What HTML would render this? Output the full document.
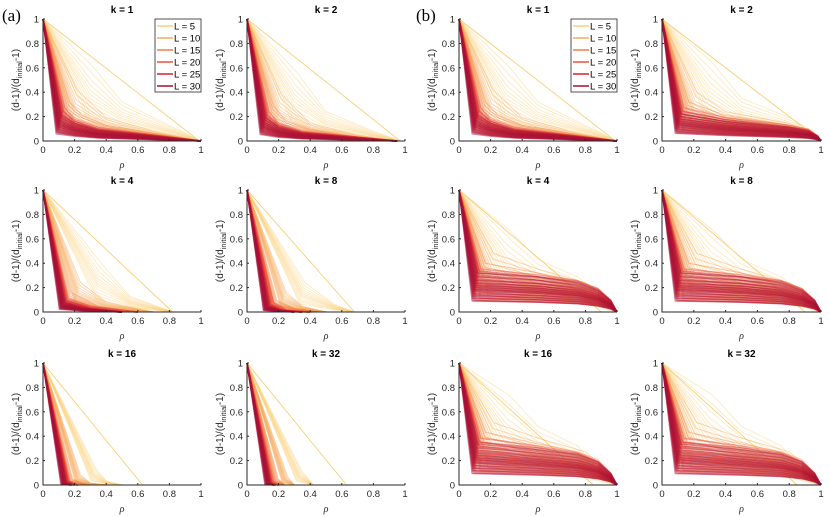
<!DOCTYPE html>
<html><head><meta charset="utf-8"><style>
body{margin:0;background:#fff;}
svg{display:block;font-family:"Liberation Sans",Arial,sans-serif;}
</style></head><body>
<svg id="fig" width="830" height="517" viewBox="0 0 830 517">
<text x="2" y="21" font-family="Liberation Serif,serif" font-size="17" fill="#000">(a)</text>
<text x="416" y="21" font-family="Liberation Serif,serif" font-size="17" fill="#000">(b)</text>
</svg>
<script>
const legendLabels = ["L = 5","L = 10","L = 15","L = 20","L = 25","L = 30"];
const colors = ["#f9cf78","#f6a858","#f0803e","#e8503f","#d6202c","#a50f38"];
const xTicks = [0,0.2,0.4,0.6,0.8,1];
const yTicks = [0,0.2,0.4,0.6,0.8,1];
const xTickLabels = ["0","0.2","0.4","0.6","0.8","1"];
const yTickLabels = ["0","0.2","0.4","0.6","0.8","1"];
const spreadFactors = [0.45,0.55,0.65,0.75,0.85,0.92,1,1.08,1.18,1.3,1.45,1.6];
const panelTitles = ["k = 1","k = 2","k = 4","k = 8","k = 16","k = 32","k = 1","k = 2","k = 4","k = 8","k = 16","k = 32"];
const tailA1 = [
 [[0,1],[0.3,0.38],[0.5,0.2],[0.8,0.08],[1,0]],
 [[0,1],[0.2,0.26],[0.4,0.12],[0.7,0.05],[1,0]],
 [[0,1],[0.15,0.2],[0.25,0.13],[0.4,0.08],[0.7,0.04],[1,0]],
 [[0,1],[0.12,0.17],[0.2,0.11],[0.35,0.07],[0.7,0.03],[1,0]],
 [[0,1],[0.11,0.15],[0.2,0.1],[0.35,0.06],[0.7,0.03],[1,0]],
 [[0,1],[0.1,0.13],[0.2,0.09],[0.35,0.055],[0.7,0.025],[1,0]]];
const tailA2 = [
 [[0,1],[0.3,0.35],[0.5,0.15],[0.8,0.05],[0.97,0]],
 [[0,1],[0.2,0.24],[0.4,0.09],[0.7,0.03],[0.95,0]],
 [[0,1],[0.15,0.18],[0.25,0.1],[0.4,0.06],[0.7,0.02],[0.95,0]],
 [[0,1],[0.12,0.15],[0.2,0.09],[0.35,0.05],[0.7,0.02],[0.95,0]],
 [[0,1],[0.11,0.13],[0.2,0.08],[0.35,0.045],[0.7,0.02],[0.95,0]],
 [[0,1],[0.1,0.12],[0.2,0.07],[0.35,0.04],[0.7,0.015],[0.95,0]]];
const tailA3 = [
 [[0,1],[0.35,0.25],[0.55,0.08],[0.82,0]],
 [[0,1],[0.22,0.15],[0.4,0.05],[0.7,0]],
 [[0,1],[0.16,0.1],[0.35,0.03],[0.6,0]],
 [[0,1],[0.14,0.07],[0.3,0.03],[0.6,0]],
 [[0,1],[0.13,0.06],[0.3,0.02],[0.5,0]],
 [[0,1],[0.12,0.05],[0.25,0.02],[0.5,0]]];
const tailA4 = [
 [[0,1],[0.35,0.15],[0.55,0.04],[0.68,0]],
 [[0,1],[0.23,0.1],[0.35,0.03],[0.5,0]],
 [[0,1],[0.17,0.06],[0.3,0.02],[0.45,0]],
 [[0,1],[0.15,0.05],[0.25,0.01],[0.4,0]],
 [[0,1],[0.13,0.04],[0.22,0.01],[0.35,0]],
 [[0,1],[0.12,0.03],[0.2,0.01],[0.3,0]]];
const tailA5 = [
 [[0,1],[0.32,0.08],[0.4,0.02],[0.5,0]],
 [[0,1],[0.22,0.05],[0.3,0.01],[0.4,0]],
 [[0,1],[0.17,0.03],[0.25,0.01],[0.3,0]],
 [[0,1],[0.15,0.02],[0.22,0]],
 [[0,1],[0.14,0.02],[0.2,0]],
 [[0,1],[0.13,0.01],[0.18,0]]];
const tailA6 = [
 [[0,1],[0.33,0.07],[0.42,0]],
 [[0,1],[0.24,0.04],[0.3,0]],
 [[0,1],[0.18,0.03],[0.24,0]],
 [[0,1],[0.15,0.02],[0.2,0]],
 [[0,1],[0.14,0.01],[0.18,0]],
 [[0,1],[0.13,0.01],[0.17,0]]];
const tailB2 = [
 [[0,1],[0.3,0.4],[0.5,0.22],[0.8,0.12],[0.95,0.05],[1,0]],
 [[0,1],[0.2,0.25],[0.4,0.15],[0.8,0.09],[0.95,0.04],[1,0]],
 [[0,1],[0.15,0.2],[0.4,0.13],[0.8,0.08],[0.92,0.06],[0.98,0.025],[1,0]],
 [[0,1],[0.12,0.17],[0.4,0.12],[0.8,0.08],[0.92,0.06],[0.98,0.025],[1,0]],
 [[0,1],[0.11,0.15],[0.4,0.11],[0.8,0.07],[0.92,0.055],[0.98,0.025],[1,0]],
 [[0,1],[0.1,0.14],[0.4,0.1],[0.8,0.07],[0.92,0.05],[0.98,0.025],[1,0]]];
const tailB3 = [
 [[0,1],[0.3,0.42],[0.5,0.27],[0.75,0.18],[0.9,0.08],[1,0]],
 [[0,1],[0.2,0.3],[0.5,0.22],[0.8,0.15],[0.93,0.08],[1,0]],
 [[0,1],[0.15,0.25],[0.5,0.2],[0.75,0.16],[0.88,0.12],[0.96,0.06],[1,0]],
 [[0,1],[0.12,0.22],[0.5,0.19],[0.75,0.16],[0.88,0.12],[0.96,0.06],[1,0]],
 [[0,1],[0.11,0.21],[0.5,0.18],[0.75,0.155],[0.88,0.115],[0.96,0.06],[1,0]],
 [[0,1],[0.1,0.2],[0.5,0.18],[0.75,0.15],[0.88,0.11],[0.96,0.06],[1,0]]];
const tailB5 = [
 [[0,1],[0.3,0.46],[0.5,0.3],[0.75,0.2],[0.88,0.08],[1,0]],
 [[0,1],[0.2,0.32],[0.5,0.24],[0.8,0.17],[0.93,0.08],[1,0]],
 [[0,1],[0.15,0.27],[0.5,0.21],[0.75,0.17],[0.88,0.13],[0.96,0.06],[1,0]],
 [[0,1],[0.12,0.24],[0.5,0.2],[0.75,0.165],[0.88,0.12],[0.96,0.06],[1,0]],
 [[0,1],[0.11,0.22],[0.5,0.19],[0.75,0.16],[0.88,0.12],[0.96,0.06],[1,0]],
 [[0,1],[0.1,0.21],[0.5,0.18],[0.75,0.155],[0.88,0.115],[0.96,0.06],[1,0]]];
const panelCurves = [tailA1,tailA2,tailA3,tailA4,tailA5,tailA6,tailA1,tailB2,tailB3,tailB3,tailB5,tailB5];
const l5LineEnd = [[0.97,0.02],[0.97,0],[0.82,0],[0.68,0],[0.63,0],[0.63,0],[0.97,0.02],[1,0],[0.9,0],[0.9,0],[0.85,0],[0.85,0]];

const NS = "http://www.w3.org/2000/svg";
const svg = document.getElementById("fig");
const colX = [[43,201],[247,405],[459,617],[662,821]];
const rowY = [[19,141],[190,312],[363,485]];
function mk(tag, attrs, parent){const e=document.createElementNS(NS,tag);for(const k in attrs)e.setAttribute(k,attrs[k]);(parent||svg).appendChild(e);return e;}

for(let p=0;p<12;p++){
  const side = p<6?0:1, idx=p%6;
  const cx = colX[side*2 + (idx%2)], ry = rowY[Math.floor(idx/2)];
  const sx = v => cx[0] + v*(cx[1]-cx[0]);
  const sy = v => ry[1] - v*(ry[1]-ry[0]);
  const g = mk("g",{});
  
  
  const curves = panelCurves[p];
  for(let L=0;L<6;L++){
    const sg = mk("g",{},g);
    
    
    if(L===0){
      const ln = mk("line",{x1:sx(0),y1:sy(1),x2:sx(l5LineEnd[p][0]),y2:sy(l5LineEnd[p][1]),stroke:colors[0],"stroke-width":0.9},sg);
      
      
    }
    const med = curves[L];
    spreadFactors.forEach(f=>{
      const pts = med.map((pt,i)=>{
        if(i===0 || i===med.length-1) return [pt[0],pt[1]];
        let x = i===1 ? pt[0] + (f-1)*0.03 : pt[0];
        let y = Math.min(1,pt[1]*f);
        return [x,y];
      });
      const pl = mk("polyline",{points:pts.map(q=>sx(q[0]).toFixed(1)+","+sy(q[1]).toFixed(1)).join(" "),fill:"none",stroke:colors[L],"stroke-width":L>=3?1.5:1,"stroke-opacity":L===0?0.4:(L>=3?0.5:0.45),"stroke-linejoin":"round"},sg);
      
      
    });
  }
  const ax = mk("path",{d:`M${cx[0]},${ry[0]}V${ry[1]}H${cx[1]}`,fill:"none",stroke:"#262626","stroke-width":1},g);
  
  
  xTicks.forEach((t,i)=>{
    mk("line",{x1:sx(t),x2:sx(t),y1:ry[1],y2:ry[1]-2,stroke:"#262626"},g);
    const tx=mk("text",{x:sx(t),y:ry[1]+12,"font-size":9.5,"text-anchor":"middle",fill:"#262626"},g);
    tx.textContent=xTickLabels[i];
    
    
  });
  yTicks.forEach((t,i)=>{
    mk("line",{x1:cx[0],x2:cx[0]+2,y1:sy(t),y2:sy(t),stroke:"#262626"},g);
    const tx=mk("text",{x:cx[0]-4,y:sy(t)+3.5,"font-size":9.5,"text-anchor":"end",fill:"#262626"},g);
    tx.textContent=yTickLabels[i];
    
    
  });
  const tt=mk("text",{x:(cx[0]+cx[1])/2,y:ry[0]-6,"font-size":10,"font-weight":"bold","text-anchor":"middle",fill:"#000"},g);
  tt.textContent=panelTitles[p];
  
  
  const xl=mk("text",{x:(cx[0]+cx[1])/2,y:ry[1]+27,"font-size":10,"font-style":"italic","text-anchor":"middle",fill:"#262626","font-family":"Liberation Serif,serif"},g);
  xl.textContent="ρ";
  
  
  const yc=(ry[0]+ry[1])/2, xx=cx[0]-24;
  const yl=mk("text",{x:xx,y:yc,"font-size":10,"text-anchor":"middle",fill:"#262626",transform:`rotate(-90 ${xx} ${yc})`},g);
  yl.innerHTML='(d-1)/(d<tspan font-size="7.5" dy="3">initial</tspan><tspan dy="-3">-1)</tspan>';
  
  
  if(idx===0){
    const lg=mk("g",{},g);
    
    
    const lx = cx[1]-46, ly=ry[0];
    mk("rect",{x:lx,y:ly,width:46,height:73,fill:"#fff",stroke:"#262626","stroke-width":0.8},lg);
    legendLabels.forEach((lab,i)=>{
      const en=mk("g",{},lg);
      
      
      const yy=ly+7+i*12;
      mk("line",{x1:lx+2,x2:lx+18,y1:yy,y2:yy,stroke:colors[i],"stroke-width":1.5},en);
      const t=mk("text",{x:lx+19,y:yy+3.5,"font-size":9.5,fill:"#000"},en);
      t.textContent=lab;
    });
  }
}
</script>
</body></html>
